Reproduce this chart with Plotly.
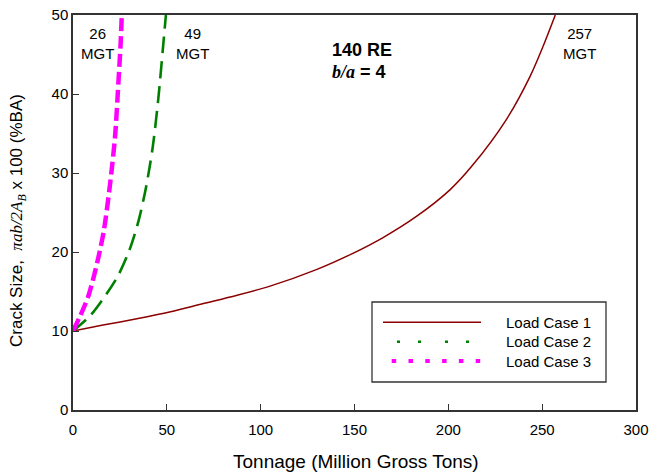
import plotly.graph_objects as go

# ---- data ----
tonnage_case1 = [0, 16, 34, 52, 69, 87, 105, 130, 148, 165, 183, 201, 213, 231, 243.5, 250.6, 257]
crack_case1 = [10, 10.75, 11.55, 12.44, 13.45, 14.5, 15.68, 17.8, 19.7, 21.8, 24.5, 27.9, 31.0, 36.8, 42.2, 46.1, 50]

tonnage_case2 = [0, 9, 17, 24, 30, 35, 39, 42.5, 45.5, 48, 49.5]
crack_case2 = [10, 11.9, 14.4, 17.0, 20.2, 24.0, 28.3, 33.3, 39.5, 46, 50]

tonnage_case3 = [0, 4, 8, 11, 14, 16.5, 19.7, 22.4, 24.2, 25.3, 26]
crack_case3 = [10, 12, 14.3, 16.8, 19.8, 22.8, 28.5, 34.6, 41.5, 46, 50]

series_names = ["Load Case 1", "Load Case 2", "Load Case 3"]
x_ticks = [0, 50, 100, 150, 200, 250, 300]
y_ticks = [0, 10, 20, 30, 40, 50]

# life annotations (x, label)
life_labels = [(13, "26<br>MGT"), (63.5, "49<br>MGT"), (270, "257<br>MGT")]

SANS = "Liberation Sans, Arial, sans-serif"
RED = "#8b0000"
GREEN = "#008000"
MAGENTA = "#ff00ff"
AX = "#333333"

W, H = 650, 474
L, R, T, B = 73, 14, 15, 64
PW, PH = W - L - R, H - T - B


def px(x):
    return (x - L) / PW


def py(y):
    return (H - B - y) / PH


fig = go.Figure()
fig.add_trace(go.Scatter(x=tonnage_case1, y=crack_case1, mode="lines", name=series_names[0],
                         line=dict(color=RED, width=1.5, shape="spline", smoothing=0.8),
                         showlegend=False))
fig.add_trace(go.Scatter(x=tonnage_case2, y=crack_case2, mode="lines", name=series_names[1],
                         line=dict(color=GREEN, width=2.6, dash="17px,8px", shape="spline", smoothing=0.8),
                         showlegend=False))
fig.add_trace(go.Scatter(x=tonnage_case3, y=crack_case3, mode="lines", name=series_names[2],
                         line=dict(color=MAGENTA, width=4.5, dash="13px,5px", shape="spline", smoothing=0.8),
                         showlegend=False))

shapes = []
annotations = []

# custom legend box
shapes.append(dict(type="rect", xref="paper", yref="paper",
                   x0=px(372), x1=px(606), y0=py(382), y1=py(302),
                   line=dict(color=AX, width=1.3), fillcolor="white", layer="above"))
leg_rows = [
    (322.3, RED, 1.5, "solid", 383, 481),
    (341.7, GREEN, 2.6, "3px,18px,3px,24px", 397, 471),
    (361.0, MAGENTA, 4.2, "4.5px,12.3px", 391.7, 481),
]
for (yy, col, wd, dsh, xa, xb), nm in zip(leg_rows, series_names):
    shapes.append(dict(type="line", xref="paper", yref="paper",
                       x0=px(xa), x1=px(xb), y0=py(yy), y1=py(yy),
                       line=dict(color=col, width=wd, dash=dsh), layer="above"))
    annotations.append(dict(xref="paper", yref="paper", x=px(504), y=py(yy),
                            xanchor="left", yanchor="middle", showarrow=False,
                            text=nm, font=dict(family=SANS, size=15, color="black")))

# life labels
for xv, txt in life_labels:
    annotations.append(dict(xref="x", yref="paper", x=xv, y=py(43),
                            xanchor="center", yanchor="middle", showarrow=False,
                            text=txt, font=dict(family=SANS, size=15, color="black")))

# title-like notes
annotations.append(dict(xref="paper", yref="paper", x=px(330), y=py(50),
                        xanchor="left", yanchor="middle", showarrow=False,
                        text="<b>140 RE</b>", font=dict(family=SANS, size=18, color="black")))
annotations.append(dict(xref="paper", yref="paper", x=px(330), y=py(72),
                        xanchor="left", yanchor="middle", showarrow=False,
                        text="<b><i><span style=\"font-family:'Liberation Serif'\">b/a</span></i> = 4</b>",
                        font=dict(family=SANS, size=18, color="black")))

# axis titles
annotations.append(dict(xref="paper", yref="paper", x=px(356), y=py(461),
                        xanchor="center", yanchor="middle", showarrow=False,
                        text="Tonnage (Million Gross Tons)",
                        font=dict(family=SANS, size=19, color="black")))
annotations.append(dict(xref="paper", yref="paper", x=px(18), y=py(221),
                        xanchor="center", yanchor="middle", showarrow=False, textangle=-90,
                        text=("Crack Size,  <span style=\"font-family:'Liberation Serif'\"><i>&#960;ab/2A"
                              "<sub>B</sub></i></span> x 100 (%BA)"),
                        font=dict(family=SANS, size=17, color="black")))

axis_common = dict(ticks="inside", ticklen=6, tickwidth=1.2, tickcolor=AX,
                   showline=True, linecolor=AX, linewidth=1.5, mirror=True,
                   showgrid=False, zeroline=False, automargin=False,
                   tickfont=dict(family=SANS, size=15, color="black"))

fig.update_layout(
    width=W, height=H, autosize=False,
    margin=dict(l=L, r=R, t=T, b=B, pad=0, autoexpand=False),
    paper_bgcolor="white", plot_bgcolor="white",
    font=dict(family=SANS, size=15, color="black"),
    showlegend=False,
    shapes=shapes, annotations=annotations,
    xaxis=dict(range=[0, 300], tickmode="array", tickvals=x_ticks, ticklabelstandoff=5, **axis_common),
    yaxis=dict(range=[0, 50], tickmode="array", tickvals=y_ticks, **axis_common),
)

fig.write_html("out.html", config={"displayModeBar": False},
               post_script="document.body.style.margin='0';document.body.style.overflow='hidden';")
